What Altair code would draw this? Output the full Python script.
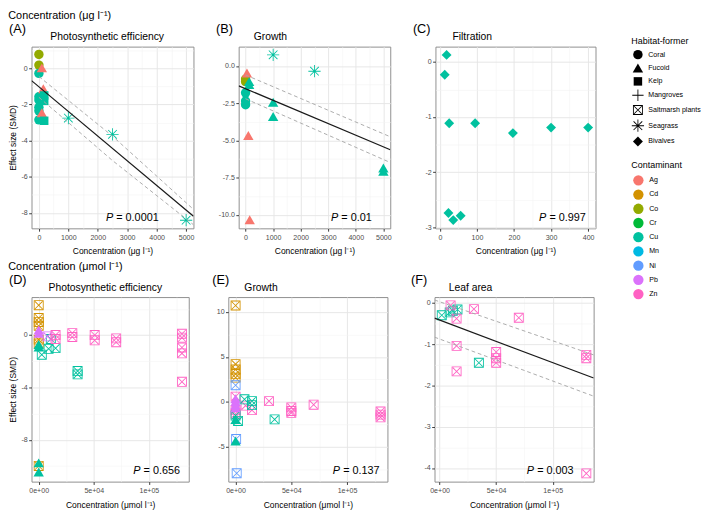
import altair as alt
import pandas as pd

FONT = "Liberation Sans"

HABITATS = ["Coral", "Fucoid", "Kelp", "Mangroves", "Saltmarsh plants", "Seagrass", "Bivalves"]
METALS = ["Ag", "Cd", "Co", "Cr", "Cu", "Mn", "Ni", "Pb", "Zn"]
METAL_COLORS = ["#F8766D", "#D39200", "#93AA00", "#00BA38", "#00C19F",
                "#00B9E3", "#619CFF", "#DB72FB", "#FF61C3"]

# custom symbols (filled polygons so one filled mark draws everything)
TRI = "M0,-1.05L1.1,0.85L-1.1,0.85Z"
SQ = "M-0.9,-0.9L0.9,-0.9L0.9,0.9L-0.9,0.9Z"
DIA = "M0,-1.05L1.05,0L0,1.05L-1.05,0Z"
PLUS = ("M-1.2,-0.09L-0.09,-0.09L-0.09,-1.2L0.09,-1.2L0.09,-0.09L1.2,-0.09L1.2,0.09"
        "L0.09,0.09L0.09,1.2L-0.09,1.2L-0.09,0.09L-1.2,0.09Z")
BOXX = ("M-1.05,-1.05L1.05,-1.05L1.05,1.05L-1.05,1.05Z "
        "M-0.87,-0.87L-0.87,0.87L0.87,0.87L0.87,-0.87Z "
        "M-0.74,-0.87L0.87,0.74L0.74,0.87L-0.87,-0.74Z "
        "M0.87,-0.74L-0.74,0.87L-0.87,0.74L0.74,-0.87Z")
ASTER = ("M-1.3,-0.09L1.3,-0.09L1.3,0.09L-1.3,0.09Z "
         "M0.09,-1.3L0.09,1.3L-0.09,1.3L-0.09,-1.3Z "
         "M-0.855,-0.983L0.983,0.855L0.855,0.983L-0.983,-0.855Z "
         "M0.983,-0.855L-0.855,0.983L-0.983,0.855L0.855,-0.983Z")
SHAPES = ["circle", TRI, SQ, PLUS, BOXX, ASTER, DIA]

PANEL_TAGS = ["(A)", "(B)", "(C)", "(D)", "(E)", "(F)"]
PANEL_NAMES = ["Photosynthetic efficiency", "Growth", "Filtration",
               "Photosynthetic efficiency", "Growth", "Leaf area"]

# ---------------- data ----------------
# (A) Photosynthetic efficiency, ug/l
A_conc = [0, 0, 0, 0, 0, 0, 0, 0, 100, 150, 100, 180, 180, 180, 1000, 2500, 5000]
A_smd = [0.77, 0.18, -0.28, -1.57, -1.75, -2.15, -2.35, -2.85, 0.0, -1.15, -2.48,
         -1.5, -1.8, -2.9, -2.75, -3.65, -8.4]
A_hab = ["Coral", "Coral", "Coral", "Coral", "Coral", "Coral", "Coral", "Coral",
         "Fucoid", "Fucoid", "Fucoid", "Kelp", "Kelp", "Kelp",
         "Seagrass", "Seagrass", "Seagrass"]
A_met = ["Co", "Co", "Cu", "Cu", "Cu", "Cu", "Cu", "Cu", "Ag", "Ag", "Ag",
         "Cu", "Cu", "Cu", "Cu", "Cu", "Cu"]
A_fit_x = [-250, 5250]
A_fit_y = [-0.68, -8.18]
A_up_x = [0, 2500, 5250]
A_up_y = [-0.45, -3.75, -7.8]
A_lo_x = [0, 2500, 5250]
A_lo_y = [-1.6, -5.1, -8.65]

# (B) Growth, ug/l
B_conc = [0, 0, 0, 0, 0, 50, 130, 130, 1000, 1000, 5000, 5000, 100, 150, 1000, 2500]
B_smd = [-0.88, -1.05, -1.8, -2.35, -2.6, -0.5, -1.08, -1.28, -2.47, -3.42,
         -6.88, -7.1, -4.7, -10.35, 0.75, -0.35]
B_hab = ["Coral", "Coral", "Coral", "Coral", "Coral", "Fucoid", "Fucoid", "Fucoid",
         "Fucoid", "Fucoid", "Fucoid", "Fucoid", "Fucoid", "Fucoid", "Seagrass", "Seagrass"]
B_met = ["Co", "Co", "Cu", "Cu", "Cu", "Ag", "Cu", "Cu", "Cu", "Cu", "Cu", "Cu",
         "Ag", "Ag", "Cu", "Cu"]
B_fit_x = [-250, 5250]
B_fit_y = [-1.33, -5.62]
B_up_x = [0, 5250]
B_up_y = [-0.6, -4.75]
B_lo_x = [0, 5250]
B_lo_y = [-2.2, -6.48]

# (C) Filtration, ug/l
C_conc = [18, 13, 25, 95, 197, 300, 400, 23, 36, 56]
C_smd = [0.13, -0.23, -1.11, -1.11, -1.29, -1.19, -1.19, -2.74, -2.87, -2.79]
C_hab = ["Bivalves", "Bivalves", "Bivalves", "Bivalves", "Bivalves",
         "Bivalves", "Bivalves", "Bivalves", "Bivalves", "Bivalves"]
C_met = ["Cu", "Cu", "Cu", "Cu", "Cu", "Cu", "Cu", "Cu", "Cu", "Cu"]

# (D) Photosynthetic efficiency, umol/l
D_conc = [0, 0, 0, 0, 0, 0, 0,
          2800, 9000, 15300, 11000, 35300, 35300, 8000,
          15300, 15300, 30500, 30500, 50800, 50800, 70300, 70300,
          130000, 130000, 130000, 130000, 130000,
          0, 0, 0, 0, 0, 0]
D_smd = [2.28, 1.3, 1.0, 0.7, -0.35, -0.65, -10.0,
         -1.5, -1.05, -1.0, -0.3, -2.75, -3.0, -0.1,
         0.0, -0.3, 0.15, -0.15, 0.0, -0.4, -0.25, -0.55,
         0.1, -0.2, -0.95, -1.4, -3.57,
         0.35, 0.1, -0.75, -0.95, -9.8, -10.5]
D_hab = ["Saltmarsh plants", "Saltmarsh plants", "Saltmarsh plants", "Saltmarsh plants",
         "Saltmarsh plants", "Saltmarsh plants", "Saltmarsh plants",
         "Saltmarsh plants", "Saltmarsh plants", "Saltmarsh plants", "Saltmarsh plants",
         "Saltmarsh plants", "Saltmarsh plants", "Saltmarsh plants",
         "Saltmarsh plants", "Saltmarsh plants", "Saltmarsh plants", "Saltmarsh plants",
         "Saltmarsh plants", "Saltmarsh plants", "Saltmarsh plants", "Saltmarsh plants",
         "Saltmarsh plants", "Saltmarsh plants", "Saltmarsh plants", "Saltmarsh plants",
         "Saltmarsh plants",
         "Fucoid", "Fucoid", "Fucoid", "Fucoid", "Fucoid", "Fucoid"]
D_met = ["Cd", "Cd", "Cd", "Cd", "Cd", "Cd", "Cd",
         "Cu", "Cu", "Cu", "Cu", "Cu", "Cu", "Pb",
         "Zn", "Zn", "Zn", "Zn", "Zn", "Zn", "Zn", "Zn",
         "Zn", "Zn", "Zn", "Zn", "Zn",
         "Pb", "Pb", "Cu", "Cu", "Cu", "Cu"]

# (E) Growth, umol/l
E_conc = [0, 0, 0, 0, 0,
          0, 500, 1000,
          0, 0, 0, 9000, 14700, 30000, 50000, 50000, 50000, 70000, 130000, 130000, 130000,
          2200, 0, 8000, 14700, 14700, 35000,
          0, 0, 0, 0, 0, 0]
E_smd = [10.7, 4.2, 3.6, 3.1, 2.7,
         1.86, -4.1, -7.9,
         0.6, -0.9, -1.3, -0.4, -0.9, 0.1, -0.6, -1.0, -1.2, -0.3, -1.05, -1.4, -1.7,
         -2.1, -1.5, 0.3, 0.1, -0.35, -1.93,
         0.3, 0.0, -0.35, -0.7, -2.0, -4.37]
E_hab = ["Saltmarsh plants", "Saltmarsh plants", "Saltmarsh plants", "Saltmarsh plants",
         "Saltmarsh plants", "Saltmarsh plants", "Saltmarsh plants", "Saltmarsh plants",
         "Saltmarsh plants", "Saltmarsh plants", "Saltmarsh plants", "Saltmarsh plants",
         "Saltmarsh plants", "Saltmarsh plants", "Saltmarsh plants", "Saltmarsh plants",
         "Saltmarsh plants", "Saltmarsh plants", "Saltmarsh plants", "Saltmarsh plants",
         "Saltmarsh plants", "Saltmarsh plants", "Saltmarsh plants", "Saltmarsh plants",
         "Saltmarsh plants", "Saltmarsh plants", "Saltmarsh plants",
         "Fucoid", "Fucoid", "Fucoid", "Fucoid", "Fucoid", "Fucoid"]
E_met = ["Cd", "Cd", "Cd", "Cd", "Cd",
         "Ni", "Ni", "Ni",
         "Zn", "Zn", "Zn", "Zn", "Zn", "Zn", "Zn", "Zn", "Zn", "Zn", "Zn", "Zn", "Zn",
         "Cu", "Cu", "Cu", "Cu", "Cu", "Cu",
         "Pb", "Pb", "Pb", "Pb", "Cu", "Cu"]

# (F) Leaf area, umol/l
F_conc = [1900, 8900, 11700, 15800, 34700,
          9700, 15000, 30300, 70000, 15000, 15000, 50000, 50000, 50000,
          129700, 129700, 129700]
F_smd = [-0.3, -0.23, -0.19, -0.16, -1.45,
         -0.06, -0.38, -0.15, -0.36, -1.04, -1.66, -1.19, -1.34, -1.45,
         -1.26, -1.34, -4.13]
F_hab = ["Saltmarsh plants", "Saltmarsh plants", "Saltmarsh plants", "Saltmarsh plants",
         "Saltmarsh plants", "Saltmarsh plants", "Saltmarsh plants", "Saltmarsh plants",
         "Saltmarsh plants", "Saltmarsh plants", "Saltmarsh plants", "Saltmarsh plants",
         "Saltmarsh plants", "Saltmarsh plants", "Saltmarsh plants", "Saltmarsh plants",
         "Saltmarsh plants"]
F_met = ["Cu", "Cu", "Cu", "Cu", "Cu",
         "Zn", "Zn", "Zn", "Zn", "Zn", "Zn", "Zn", "Zn", "Zn", "Zn", "Zn", "Zn"]
F_fit_x = [-4500, 136200]
F_fit_y = [-0.37, -1.82]
F_up_x = [-4500, 136200]
F_up_y = [0.07, -1.26]
F_lo_x = [-4500, 136200]
F_lo_y = [-0.83, -2.26]

P_LABELS = ["= 0.0001", "= 0.01", "= 0.997", "= 0.656", "= 0.137", "= 0.003"]
UMOL_TICK_VALUES = [0, 50000, 100000]
UMOL_TICK_LABELS = ["0e+00", "5e+04", "1e+05"]

XT_UG = "Concentration (\u03bcg l\u207b\u00b9)"
XT_UM = "Concentration (\u03bcmol l\u207b\u00b9)"
YT = "Effect size (SMD)"


def pts(conc, smd, hab, met):
    return pd.DataFrame({"conc": conc, "smd": smd, "habitat": hab, "metal": met})


def lines(fx, fy, ux, uy, lx, ly):
    fit = pd.DataFrame({"conc": fx, "smd": fy})
    ci = pd.DataFrame({"conc": ux + lx, "smd": uy + ly,
                       "kind": ["upper"] * len(ux) + ["lower"] * len(lx)})
    return fit, ci


def cond(test, minor_val, major_val):
    return {"condition": {"test": test, "value": minor_val}, "value": major_val}


SHAPE_LEGEND = alt.Legend(title="Habitat-former", orient="none", legendX=637, legendY=-11,
                          symbolSize=100, symbolFillColor="black", symbolStrokeWidth=0,
                          labelFontSize=7.5, titleFontSize=9.5, rowPadding=3.7,
                          titlePadding=5, labelOffset=6, symbolOffset=2)
COLOR_LEGEND = alt.Legend(title="Contaminant", orient="none", legendX=637, legendY=121,
                          symbolType="circle", symbolSize=120, symbolStrokeWidth=0,
                          symbolOpacity=1, labelFontSize=7.5, titleFontSize=9.5,
                          rowPadding=4.1, titlePadding=6, labelOffset=6, symbolOffset=2)


def panel(idx, df, w, h, xdom, ydom, xvals, xminor, yvals, yminor, xlabel, ylabel,
          xtitle, ytitle, tag_dx, name_dx, px, fit=None, ci=None):
    xaxis = alt.Axis(values=xvals, title=xtitle, labelExpr=xlabel, labelOverlap=False,
                     labelPadding=2.5, titlePadding=7,
                     gridColor=cond(xminor, "#F2F2F2", "#E6E6E6"),
                     gridWidth=cond(xminor, 0.6, 1),
                     tickOpacity=cond(xminor, 0, 1))
    yaxis = alt.Axis(values=yvals, title=ytitle, labelExpr=ylabel, labelOverlap=False,
                     gridColor=cond(yminor, "#F2F2F2", "#E6E6E6"),
                     gridWidth=cond(yminor, 0.6, 1),
                     tickOpacity=cond(yminor, 0, 1))
    x = alt.X("conc:Q", scale=alt.Scale(domain=xdom, nice=False, zero=False), axis=xaxis)
    y = alt.Y("smd:Q", scale=alt.Scale(domain=ydom, nice=False, zero=False), axis=yaxis)
    points = alt.Chart(df).mark_point(filled=True, size=100, opacity=1).encode(
        x=x, y=y,
        shape=alt.Shape("habitat:N", scale=alt.Scale(domain=HABITATS, range=SHAPES),
                        legend=SHAPE_LEGEND),
        color=alt.Color("metal:N", scale=alt.Scale(domain=METALS, range=METAL_COLORS),
                        legend=COLOR_LEGEND),
    )
    layers = [points]
    if ci is not None:
        layers.append(alt.Chart(ci).mark_line(color="#A8A8A8", strokeDash=[4, 3],
                                              strokeWidth=1, clip=True).encode(
            x=x, y=y, detail="kind:N"))
    if fit is not None:
        layers.append(alt.Chart(fit).mark_line(color="#1a1a1a", strokeWidth=1.3,
                                               clip=True).encode(x=x, y=y))
    tdf = pd.DataFrame({"p": [P_LABELS[idx]], "tag": [PANEL_TAGS[idx]],
                        "name": [PANEL_NAMES[idx]]})
    layers.append(alt.Chart(tdf).mark_text(font=FONT, fontSize=11.5, fontStyle="italic",
                                           align="left", baseline="alphabetic",
                                           color="black").encode(
        x=alt.value(px), y=alt.value(h - 8), text=alt.value("P")))
    layers.append(alt.Chart(tdf).mark_text(font=FONT, fontSize=11.5, align="left",
                                           baseline="alphabetic", color="black").encode(
        x=alt.value(px + 11), y=alt.value(h - 8), text="p:N"))
    # panel tag and panel name above the plot area
    layers.append(alt.Chart(tdf).mark_text(font=FONT, fontSize=13.5, align="left",
                                           baseline="alphabetic", color="black").encode(
        x=alt.value(tag_dx), y=alt.value(-14), text="tag:N"))
    layers.append(alt.Chart(tdf).mark_text(font=FONT, fontSize=11, align="left",
                                           baseline="alphabetic", color="black").encode(
        x=alt.value(name_dx), y=alt.value(-7), text="name:N"))
    return alt.layer(*layers).properties(width=w, height=h)


def minor_test(step):
    return f"abs(datum.value % {step}) > 1e-6"


def hide_minor(step, fmt):
    lab = f"replace(format(datum.value, '{fmt}'), '\u2212', '-')"
    return f"abs(datum.value % {step}) > 1e-6 ? '' : {lab}"


um_label = ("indexof(" + str(UMOL_TICK_VALUES) + ", datum.value) >= 0 ? " +
            str(UMOL_TICK_LABELS) + "[indexof(" + str(UMOL_TICK_VALUES) +
            ", datum.value)] : ''")

H1 = 193
H2 = 196

fitA, ciA = lines(A_fit_x, A_fit_y, A_up_x, A_up_y, A_lo_x, A_lo_y)
fitB, ciB = lines(B_fit_x, B_fit_y, B_up_x, B_up_y, B_lo_x, B_lo_y)
fitF, ciF = lines(F_fit_x, F_fit_y, F_up_x, F_up_y, F_lo_x, F_lo_y)

ug_x = [0, 500, 1000, 1500, 2000, 2500, 3000, 3500, 4000, 4500, 5000]
um_x = [0, 25000, 50000, 75000, 100000, 125000]

pA = panel(0, pts(A_conc, A_smd, A_hab, A_met), 172, H1, [-250, 5250], [-8.85, 1.2],
           ug_x, minor_test(1000), [1, 0, -1, -2, -3, -4, -5, -6, -7, -8],
           minor_test(2), hide_minor(1000, "d"), hide_minor(2, "d"), XT_UG, YT,
           -24, 20, 79, fitA, ciA)
pB = panel(1, pts(B_conc, B_smd, B_hab, B_met), 161, H1, [-250, 5250], [-10.9, 1.3],
           ug_x, minor_test(1000), [0, -1.25, -2.5, -3.75, -5, -6.25, -7.5, -8.75, -10],
           minor_test(2.5), hide_minor(1000, "d"), hide_minor(2.5, ".1f"), XT_UG, None,
           -24, 16, 98, fitB, ciB)
pC = panel(2, pts(C_conc, C_smd, C_hab, C_met), 170, H1, [-12, 420], [-3.02, 0.28],
           [0, 50, 100, 150, 200, 250, 300, 350, 400], minor_test(100),
           [0, -0.5, -1, -1.5, -2, -2.5, -3], minor_test(1),
           hide_minor(100, "d"), hide_minor(1, "d"), XT_UG, None,
           -24, 18, 110)
pD = panel(3, pts(D_conc, D_smd, D_hab, D_met), 167, H2, [-6500, 136200], [-11.2, 2.9],
           um_x, minor_test(50000), [2, 0, -2, -4, -6, -8, -10], minor_test(4),
           um_label, hide_minor(4, "d"), XT_UM, YT,
           -24, 18, 108)
pE = panel(4, pts(E_conc, E_smd, E_hab, E_met), 169, H2, [-6500, 136200], [-8.83, 11.63],
           um_x, minor_test(50000), [10, 7.5, 5, 2.5, 0, -2.5, -5, -7.5], minor_test(5),
           um_label, hide_minor(5, "d"), XT_UM, None,
           -17, 17, 111)
pF = panel(5, pts(F_conc, F_smd, F_hab, F_met), 169, H2, [-4500, 136200], [-4.33, 0.14],
           um_x, minor_test(50000), [0, -0.5, -1, -1.5, -2, -2.5, -3, -3.5, -4],
           minor_test(1), um_label, hide_minor(1, "d"), XT_UM, None,
           -25, 15, 98, fitF, ciF)

RES = dict(x="independent", y="independent", color="shared", shape="shared")

top = alt.hconcat(pA, pB, pC, spacing=21,
                  title=alt.TitleParams(XT_UG, anchor="start", fontSize=11.5, offset=1,
                                        font=FONT, fontWeight="normal", color="black")
                  ).resolve_scale(**RES)
bottom = alt.hconcat(pD, pE, pF, spacing=23,
                     title=alt.TitleParams(XT_UM, anchor="start", fontSize=11.5, offset=1,
                                           font=FONT, fontWeight="normal", color="black")
                     ).resolve_scale(**RES)

chart = alt.vconcat(top, bottom, spacing=5).resolve_scale(**RES).properties(
    padding={"left": 0, "top": -13, "right": 0, "bottom": 0}
).configure_view(stroke="#8a8a8a", strokeWidth=1).configure_axis(
    labelFont=FONT, titleFont=FONT, labelFontSize=7.5, titleFontSize=9,
    labelColor="#4d4d4d", titleColor="black", tickColor="#333333", tickSize=3,
    domain=False, titleFontWeight="normal", labelPadding=1.5, titlePadding=4
).configure_legend(labelFont=FONT, titleFont=FONT, titleFontWeight="normal",
                   titleColor="black", labelColor="black"
).configure_title(font=FONT, fontWeight="normal", color="black")

chart.save("out.html", embed_options={"renderer": "svg", "actions": False})
